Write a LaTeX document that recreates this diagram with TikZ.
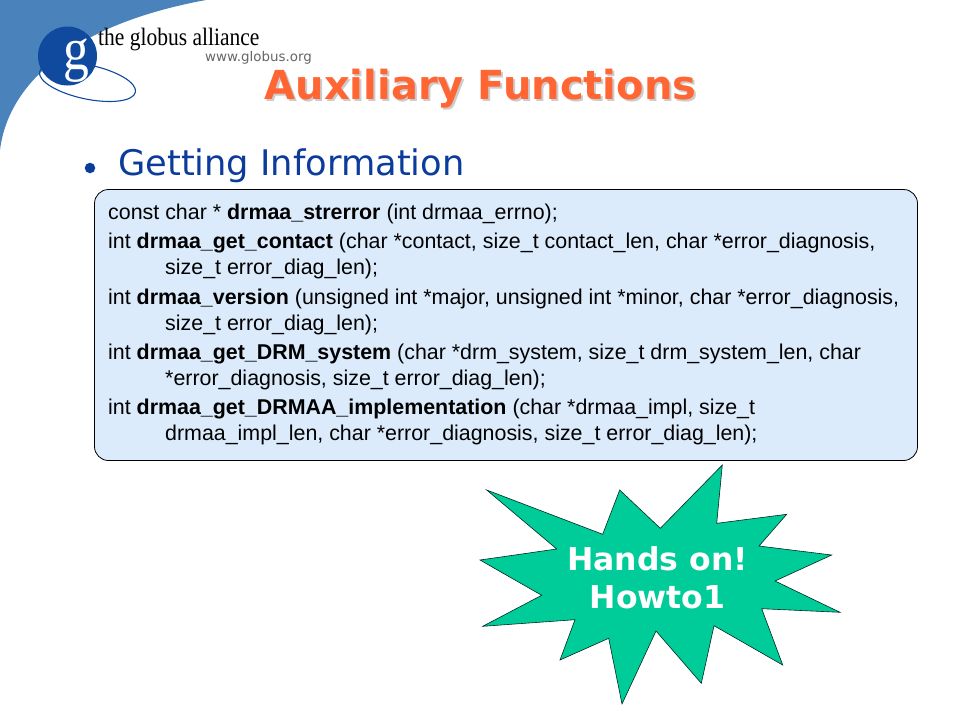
\documentclass[tikz,border=0pt]{standalone}
\usepackage{fontspec}
\setmainfont{Liberation Sans}
\newfontfamily\dejavu{DejaVu Sans}
\newfontfamily\serifl{Liberation Serif}
\newfontfamily\seriflogo[FakeStretch=0.86]{Liberation Serif}
\definecolor{swoosh}{HTML}{4A82BC}
\definecolor{logoblue}{HTML}{0F4A9E}
\definecolor{headblue}{HTML}{0B3C9C}
\definecolor{orangeT}{HTML}{FF6633}
\definecolor{panel}{HTML}{DCEBFC}
\definecolor{burst}{HTML}{00CC99}
\tikzset{
  codeline/.style={anchor=base west,inner sep=0pt,font=\fontsize{21.4}{24}\selectfont,text=black},
  titletext/.style={anchor=base,inner sep=0pt,font=\dejavu\bfseries\fontsize{40}{44}\selectfont}
}
\begin{document}
\begin{tikzpicture}[x=1pt,y=-1pt]
\useasboundingbox (0,0) rectangle (960,720);
\fill[white] (0,0) rectangle (960,720);
% swoosh
\fill[swoosh] (0,0) -- (206,0) .. controls (70,25) and (8,85) .. (0,150) -- cycle;
% logo
\draw[logoblue,line width=1.1pt,rotate around={-12:(87.5,82)}] (87.5,82) ellipse (49 and 17);
\node[circle,fill=logoblue,minimum size=59pt,inner sep=0pt] (logoball) at (67.5,56) {};
\node[anchor=base,inner sep=0pt,text=white,font=\seriflogo\fontsize{60}{60}\selectfont] (logog) at (76.5,69) {g};
\node[anchor=base west,inner sep=0pt,font=\seriflogo\fontsize{25}{28}\selectfont] (logotext) at (98,45) {the globus alliance};
\node[anchor=base west,inner sep=0pt,text=black!60,font=\dejavu\fontsize{13.4}{15}\selectfont] (logourl) at (205,61) {www.globus.org};
% title
\node[titletext,text=black!20] (titleshadow) at (482.5,101) {Auxiliary Functions};
\node[titletext,text=orangeT] (title) at (480.5,99) {Auxiliary Functions};
% bullet and heading
\node[circle,fill=headblue,minimum size=10.5pt,inner sep=0pt] (bullet) at (90,168) {};
\node[anchor=base west,inner sep=0pt,text=headblue,font=\dejavu\fontsize{35.25}{38}\selectfont] (heading) at (118,175) {Getting Information};
% panel
\node[draw=black,line width=0.8pt,fill=panel,rounded corners=14pt,minimum width=823pt,minimum height=271pt,inner sep=0pt] (panelbox) at (506,325) {};
\node[codeline] (l1) at (108,219) {const char * \textbf{drmaa\_strerror} (int drmaa\_errno);};
\node[codeline] (l2) at (108,248) {int \textbf{drmaa\_get\_contact} (char *contact, size\_t contact\_len, char *error\_diagnosis,};
\node[codeline] (l3) at (165,274) {size\_t error\_diag\_len);};
\node[codeline] (l4) at (108,304) {int \textbf{drmaa\_version} (unsigned int *major, unsigned int *minor, char *error\_diagnosis,};
\node[codeline] (l5) at (165,330) {size\_t error\_diag\_len);};
\node[codeline] (l6) at (108,359) {int \textbf{drmaa\_get\_DRM\_system} (char *drm\_system, size\_t drm\_system\_len, char};
\node[codeline] (l7) at (165,385) {*error\_diagnosis, size\_t error\_diag\_len);};
\node[codeline] (l8) at (108,414) {int \textbf{drmaa\_get\_DRMAA\_implementation} (char *drmaa\_impl, size\_t};
\node[codeline] (l9) at (165,440) {drmaa\_impl\_len, char *error\_diagnosis, size\_t error\_diag\_len);};
% burst
\draw[fill=burst,draw=black!80!burst,line width=0.6pt,line join=miter]
 (486.7,490) -- (602.7,534.3) -- (619.7,490) -- (660.3,528.3) -- (722.3,465) -- (716.7,523.3)
 -- (786.7,514.3) -- (759,546) -- (831.7,555) -- (775,581) -- (840,612.3) -- (761.7,608.7)
 -- (782.7,665) -- (714,625.7) -- (701.3,683.3) -- (656,631) -- (622,704) -- (608.7,638.3)
 -- (560,660) -- (575,619.7) -- (482.7,626.3) -- (541.7,595.3) -- (480,560) -- (556.7,549) -- cycle;
\node[anchor=base,inner sep=0pt,text=white,font=\dejavu\bfseries\fontsize{31.5}{34}\selectfont] (burst1) at (657.5,570) {Hands on!};
\node[anchor=base,inner sep=0pt,text=white,font=\dejavu\bfseries\fontsize{31.5}{34}\selectfont] (burst2) at (657.5,608) {Howto1};
\end{tikzpicture}
\end{document}
